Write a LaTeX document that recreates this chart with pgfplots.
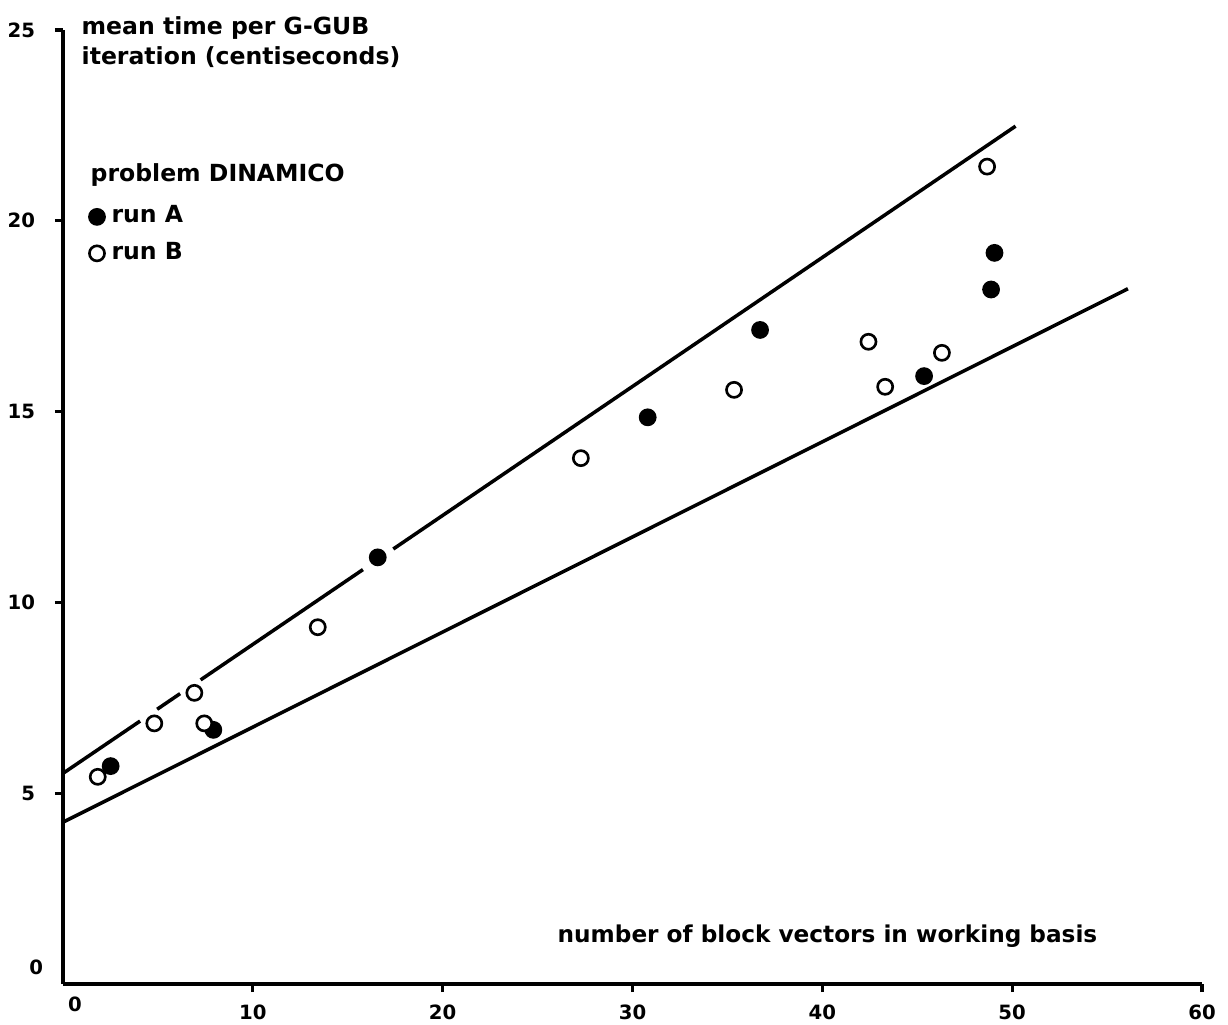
\documentclass[border=0pt]{standalone}
\usepackage{pgfplots}
\pgfplotsset{compat=1.18}
\usepackage{fontspec}
\setmainfont{DejaVu Sans}

\begin{document}
\begin{tikzpicture}
\begin{axis}[
  at={(0.63cm,0.40cm)}, anchor=south west,
  scale only axis, width=11.39cm, height=9.54cm,
  xmin=0, xmax=60, ymin=0, ymax=25,
  enlargelimits=false,
  axis x line*=bottom, axis y line*=left,
  axis line style={line width=0.9pt},
  xtick={10,20,...,60}, ytick={5,10,...,25},
  extra x ticks={0}, extra y ticks={0},
  extra x tick style={major tick length=0pt, xticklabel style={xshift=0.12cm}},
  extra y tick style={major tick length=0pt, yticklabel style={yshift=0.17cm}},
  tick align=outside, major tick length=0.08cm,
  tick style={line width=0.9pt, black},
  ticklabel style={font=\bfseries\fontsize{5.6}{6}\selectfont},
  yticklabel style={xshift=-0.075cm},
  /pgf/number format/assume math mode=true,
  clip=false,
  xlabel={number of block vectors in working basis},
  xlabel style={at={(axis description cs:0.4337,0.043)}, anchor=base west, inner sep=0pt, font=\bfseries\fontsize{6.6}{8}\selectfont},
  ylabel={mean time per G-GUB\\iteration (centiseconds)},
  ylabel style={rotate=-90, at={(axis description cs:0.0158,1.015)}, anchor=north west, inner sep=0pt, align=left, font=\bfseries\fontsize{6.7}{8.6}\selectfont},
  legend style={at={(axis description cs:0.0226,0.824)}, anchor=north west, draw=none, fill=none, inner sep=0pt, row sep=0pt,
    font=\bfseries\fontsize{6.7}{8}\selectfont},
  legend cell align=left,
  legend image code/.code={\draw[#1] plot coordinates {(0.1cm,0cm)}; \path (0.13cm,0cm);},
]
% fitted bounds (upper one is broken around some points as in the original)
\addplot[black, line width=1.0pt, forget plot] coordinates {(0,5.52) (4.06,6.89)};
\addplot[black, line width=1.0pt, forget plot] coordinates {(4.96,7.20) (6.17,7.61)};
\addplot[black, line width=1.0pt, forget plot] coordinates {(7.25,7.97) (15.8,10.86)};
\addplot[black, line width=1.0pt, forget plot] coordinates {(17.4,11.40) (50.18,22.48)};
\addplot[black, line width=1.0pt, forget plot] coordinates {(0,4.24) (56.1,18.22)};

% run A (filled)
\addplot[only marks, mark=*, mark size=2.15pt, draw=black, fill=black, line width=0.75pt] coordinates {
(2.51,5.71) (7.92,6.66) (16.58,11.18) (30.80,14.85) (36.72,17.14) (45.36,15.93) (48.89,18.20) (49.07,19.16)
};
\addlegendentry{run A}
% run B (open)
\addplot[only marks, mark=*, mark size=2.15pt, draw=black, fill=white, line width=0.75pt] coordinates {
(1.83,5.43) (4.81,6.83) (6.92,7.63) (7.44,6.83) (13.42,9.35) (27.28,13.78) (35.35,15.57) (42.43,16.83) (43.31,15.65) (46.30,16.54) (48.68,21.42)
};
\addlegendentry{run B}

\node[anchor=base west, inner sep=0pt, font=\bfseries\fontsize{6.7}{8}\selectfont] at (axis description cs:0.0237,0.8407) {problem DINAMICO};
\end{axis}
\pgfresetboundingbox
\path[use as bounding box] (0,0) rectangle (12.28,10.24);
\end{tikzpicture}
\end{document}
